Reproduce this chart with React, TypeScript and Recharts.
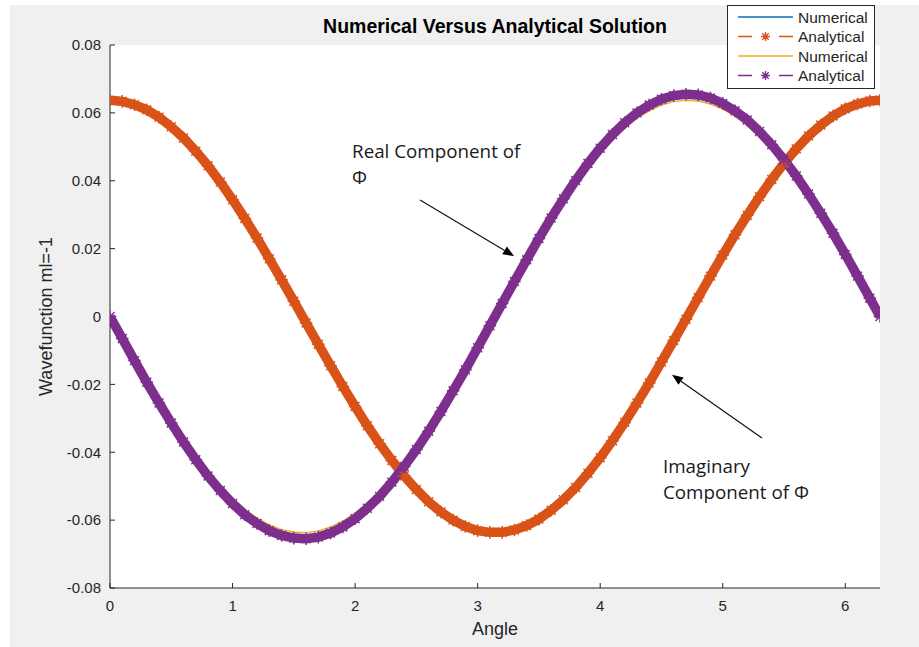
import React from "react";
import { LineChart, Line, XAxis, YAxis, CartesianGrid, Legend, ReferenceLine, Label } from "recharts";

const FONT = "'Liberation Sans', Arial, sans-serif";
const NOTE_FONT = "'Open Sans', 'Noto Sans', sans-serif";
const INK = "#262626";

// angle samples (radians)
const angle = [
  0, 0.1, 0.2, 0.3, 0.4, 0.5, 0.6, 0.7, 0.8, 0.9,
  1.0, 1.1, 1.2, 1.3, 1.4, 1.5, 1.6, 1.7, 1.8, 1.9,
  2.0, 2.1, 2.2, 2.3, 2.4, 2.5, 2.6, 2.7, 2.8, 2.9,
  3.0, 3.1, 3.2, 3.3, 3.4, 3.5, 3.6, 3.7, 3.8, 3.9,
  4.0, 4.1, 4.2, 4.3, 4.4, 4.5, 4.6, 4.7, 4.8, 4.9,
  5.0, 5.1, 5.2, 5.3, 5.4, 5.5, 5.6, 5.7, 5.8, 5.9,
  6.0, 6.1, 6.2, 6.2832,
];

// real part (orange band)
const analyticalRe = [
  0.0637, 0.0634, 0.0624, 0.0609, 0.0587, 0.0559, 0.0526, 0.0487, 0.0444, 0.0396,
  0.0344, 0.0289, 0.0231, 0.0170, 0.0108, 0.0045, -0.0019, -0.0082, -0.0145, -0.0206,
  -0.0265, -0.0322, -0.0375, -0.0424, -0.0470, -0.0510, -0.0546, -0.0576, -0.0600, -0.0619,
  -0.0631, -0.0636, -0.0636, -0.0629, -0.0616, -0.0597, -0.0571, -0.0540, -0.0504, -0.0462,
  -0.0416, -0.0366, -0.0312, -0.0255, -0.0196, -0.0134, -0.0071, -0.0008, 0.0056, 0.0119,
  0.0181, 0.0241, 0.0298, 0.0353, 0.0404, 0.0451, 0.0494, 0.0532, 0.0564, 0.0591,
  0.0612, 0.0626, 0.0635, 0.0637,
];
// numerical real part sits under the orange band
const numericalRe = analyticalRe;

// imaginary part (purple band)
const analyticalIm = [
  0, -0.0065, -0.0130, -0.0194, -0.0255, -0.0314, -0.0370, -0.0422, -0.0470, -0.0513,
  -0.0551, -0.0584, -0.0610, -0.0631, -0.0645, -0.0653, -0.0655, -0.0650, -0.0638, -0.0620,
  -0.0596, -0.0565, -0.0530, -0.0488, -0.0442, -0.0392, -0.0338, -0.0280, -0.0219, -0.0157,
  -0.0092, -0.0027, 0.0038, 0.0103, 0.0167, 0.0230, 0.0290, 0.0347, 0.0401, 0.0451,
  0.0496, 0.0536, 0.0571, 0.0600, 0.0623, 0.0640, 0.0651, 0.0655, 0.0653, 0.0644,
  0.0628, 0.0606, 0.0579, 0.0545, 0.0506, 0.0462, 0.0414, 0.0361, 0.0304, 0.0245,
  0.0183, 0.0119, 0.0054, 0,
];

// yellow numerical line, just inside the purple peaks
const numericalIm = [
  0, -0.0064, -0.0127, -0.0188, -0.0248, -0.0305, -0.0360, -0.0410, -0.0457, -0.0499,
  -0.0536, -0.0568, -0.0594, -0.0614, -0.0628, -0.0635, -0.0637, -0.0632, -0.0620, -0.0603,
  -0.0579, -0.0550, -0.0515, -0.0475, -0.0430, -0.0381, -0.0328, -0.0272, -0.0213, -0.0152,
  -0.0090, -0.0026, 0.0037, 0.0100, 0.0163, 0.0223, 0.0282, 0.0337, 0.0390, 0.0438,
  0.0482, 0.0521, 0.0555, 0.0584, 0.0606, 0.0623, 0.0633, 0.0637, 0.0635, 0.0626,
  0.0611, 0.0590, 0.0563, 0.0530, 0.0492, 0.0449, 0.0402, 0.0351, 0.0296, 0.0238,
  0.0178, 0.0116, 0.0053, 0,
];

const xTicks = [0, 1, 2, 3, 4, 5, 6];
const yTicks = [-0.08, -0.06, -0.04, -0.02, 0, 0.02, 0.04, 0.06, 0.08];

const series = [
  { key: "numRe", name: "Numerical", color: "#0072BD", values: numericalRe, starred: false },
  { key: "anaRe", name: "Analytical", color: "#D95319", values: analyticalRe, starred: true },
  { key: "numIm", name: "Numerical", color: "#EDB120", values: numericalIm, starred: false },
  { key: "anaIm", name: "Analytical", color: "#7E2F8E", values: analyticalIm, starred: true },
];

const rows = angle.map((a, i) => {
  const row: Record<string, number> = { angle: a };
  series.forEach((s) => (row[s.key] = s.values[i]));
  return row;
});

// arrows in data coordinates, text offset in px from the tail
const notes = [
  { from: [2.53, 0.0343], to: [3.297, 0.0178], lines: ["Real Component of", "\u03A6"], dx: -68, dy: -42 },
  { from: [5.32, -0.0358], to: [4.586, -0.0172], lines: ["Imaginary", "Component of \u03A6"], dx: -99, dy: 35 },
];

const starPath = (cx: number, cy: number, r: number) => {
  const d = r * 0.707;
  return `M${cx - r},${cy}L${cx + r},${cy}M${cx},${cy - r}L${cx},${cy + r}` +
    `M${cx - d},${cy - d}L${cx + d},${cy + d}M${cx - d},${cy + d}L${cx + d},${cy - d}`;
};

const renderStar = (color: string) => (props: any) => {
  const { cx, cy, index } = props;
  if (cx == null || cy == null) return <g key={`e-${index}`} />;
  return <path key={`s-${index}`} d={starPath(cx, cy, 6.3)} stroke={color} strokeWidth={1.5} fill="none" />;
};

const renderArrow = (note: typeof notes[number]) => (props: any) => {
  const { x1, y1, x2, y2 } = props;
  const len = Math.hypot(x2 - x1, y2 - y1);
  const ux = (x2 - x1) / len;
  const uy = (y2 - y1) / len;
  const bx = x2 - ux * 11;
  const by = y2 - uy * 11;
  const nx = -uy * 4.5;
  const ny = ux * 4.5;
  return (
    <g>
      <line x1={x1} y1={y1} x2={bx} y2={by} stroke="#111" strokeWidth={1.2} />
      <polygon points={`${x2},${y2} ${bx + nx},${by + ny} ${bx - nx},${by - ny}`} fill="#000" />
      {note.lines.map((t, i) => (
        <text key={i} x={x1 + note.dx} y={y1 + note.dy + i * 26} fontFamily={NOTE_FONT} fontSize={18.8} fill="#1a1a1a">
          {t}
        </text>
      ))}
    </g>
  );
};

const renderLegend = (props: any) => {
  const payload: any[] = props.payload || [];
  const order = series.map((s) => s.key);
  const items = [...payload].sort((a, b) => order.indexOf(a.dataKey) - order.indexOf(b.dataKey));
  return (
    <div style={{ width: 148, height: 84, boxSizing: "border-box", border: `1px solid ${INK}`, background: "#fff" }}>
      <svg width={146} height={82}>
        {items.map((it, i) => {
          const s = series.find((z) => z.key === it.dataKey);
          const y = 11 + i * 19.5;
          return (
            <g key={it.dataKey}>
              <line x1={10} x2={65} y1={y} y2={y} stroke={it.color} strokeWidth={1.3}
                strokeDasharray={s && s.starred ? "14 27" : undefined} />
              {s && s.starred && <path d={starPath(37.5, y, 4.5)} stroke={it.color} strokeWidth={1.3} />}
              <text x={70} y={y} dominantBaseline="central" fontFamily={FONT} fontSize={15.5} fill={INK}>
                {it.value}
              </text>
            </g>
          );
        })}
      </svg>
    </div>
  );
};

const fmtY = (v: number) => (Math.abs(v) < 1e-9 ? "0" : v.toFixed(2));

export default function App() {
  return (
    <div style={{ position: "absolute", left: 0, top: 0, width: 919, height: 647, background: "#fff" }}>
      <div style={{ position: "absolute", left: 10, top: 5, right: 0, bottom: 0, background: "#f0f0f0" }} />
      <div
        style={{
          position: "absolute", left: 0, top: 17, width: 990, textAlign: "center",
          fontFamily: FONT, fontWeight: "bold", fontSize: 19.5, lineHeight: "19.5px", color: "#000",
        }}
      >
        Numerical Versus Analytical Solution
      </div>
      <div style={{ position: "absolute", left: 0, top: 0 }}>
        <LineChart width={919} height={647} data={rows} margin={{ top: 45, right: 39, bottom: 29, left: 50 }}>
          <CartesianGrid horizontal={false} vertical={false} fill="#fff" />
          <XAxis
            dataKey="angle"
            type="number"
            domain={[0, 6.2832]}
            ticks={xTicks}
            allowDataOverflow
            height={30}
            stroke={INK}
            tickSize={-5}
            tickMargin={17}
            tick={{ fill: INK, fontSize: 15, fontFamily: FONT }}
          >
            <Label value="Angle" position="insideBottom" offset={-17}
              style={{ fill: INK, fontSize: 18, fontFamily: FONT }} />
          </XAxis>
          <YAxis
            type="number"
            domain={[-0.08, 0.08]}
            ticks={yTicks}
            tickFormatter={fmtY}
            width={60}
            stroke={INK}
            tickSize={-5}
            tickMargin={14}
            tick={{ fill: INK, fontSize: 15, fontFamily: FONT }}
          >
            <Label value="Wavefunction ml=-1" angle={-90} position="insideLeft" offset={-4}
              style={{ textAnchor: "middle", fill: INK, fontSize: 18, fontFamily: FONT }} />
          </YAxis>
          <Legend
            layout="vertical"
            align="center"
            verticalAlign="middle"
            content={renderLegend}
            wrapperStyle={{ left: 727, top: 5, width: 148, height: 84 }}
          />
          {series.map((s) =>
            s.starred ? (
              <Line key={s.key} dataKey={s.key} name={s.name} stroke={s.color} strokeWidth={9.5}
                dot={renderStar(s.color)} activeDot={false} isAnimationActive={false} />
            ) : (
              <Line key={s.key} dataKey={s.key} name={s.name} stroke={s.color} strokeWidth={1.3}
                dot={false} activeDot={false} isAnimationActive={false} />
            )
          )}
          {notes.map((n, i) => (
            <ReferenceLine key={i} segment={[{ x: n.from[0], y: n.from[1] }, { x: n.to[0], y: n.to[1] }]}
              shape={renderArrow(n)} ifOverflow="visible" />
          ))}
        </LineChart>
      </div>
    </div>
  );
}
